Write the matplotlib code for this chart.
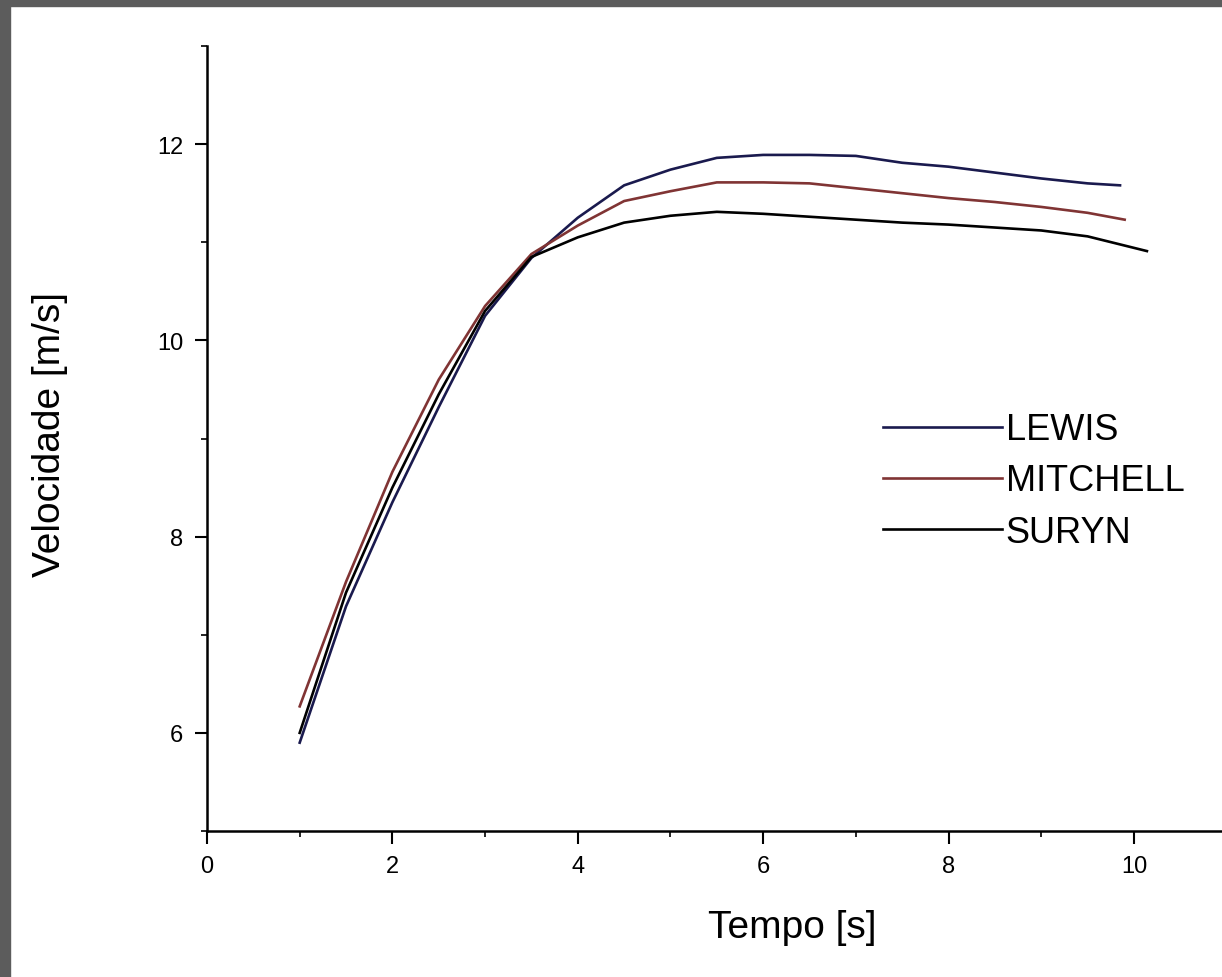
import matplotlib.pyplot as plt
from matplotlib.patches import Rectangle
from matplotlib.ticker import MultipleLocator

plt.rcParams['font.family'] = ['Liberation Sans', 'DejaVu Sans']

# tempo (s) e velocidade (m/s)
t_lewis = [1.0, 1.5, 2.0, 2.5, 3.0, 3.5, 4.0, 4.5, 5.0, 5.5, 6.0, 6.5, 7.0, 7.5, 8.0, 8.5, 9.0, 9.5, 9.85]
v_lewis = [5.90, 7.29, 8.35, 9.32, 10.25, 10.84, 11.25, 11.58, 11.74, 11.86, 11.89, 11.89, 11.88, 11.81, 11.77, 11.71, 11.65, 11.60, 11.58]

t_mitchell = [1.0, 1.5, 2.0, 2.5, 3.0, 3.5, 4.0, 4.5, 5.0, 5.5, 6.0, 6.5, 7.0, 7.5, 8.0, 8.5, 9.0, 9.5, 9.9]
v_mitchell = [6.27, 7.54, 8.66, 9.60, 10.35, 10.88, 11.17, 11.42, 11.52, 11.61, 11.61, 11.60, 11.55, 11.50, 11.45, 11.41, 11.36, 11.30, 11.23]

t_suryn = [1.0, 1.5, 2.0, 2.5, 3.0, 3.5, 4.0, 4.5, 5.0, 5.5, 6.0, 6.5, 7.0, 7.5, 8.0, 8.5, 9.0, 9.5, 10.14]
v_suryn = [6.00, 7.43, 8.50, 9.45, 10.30, 10.85, 11.05, 11.20, 11.27, 11.31, 11.29, 11.26, 11.23, 11.20, 11.18, 11.15, 11.12, 11.06, 10.91]

fig = plt.figure(figsize=(12.22, 9.78), dpi=100)
ax = fig.add_axes([207 / 1222, 146 / 978, 1015 / 1222, 785 / 978])

ax.plot(t_lewis, v_lewis, color='#1a1a4e', lw=1.9, label='LEWIS')
ax.plot(t_mitchell, v_mitchell, color='#803434', lw=1.9, label='MITCHELL')
ax.plot(t_suryn, v_suryn, color='black', lw=1.9, label='SURYN')

ax.set_xlim(0, 10.95)
ax.set_ylim(5, 13)
ax.xaxis.set_major_locator(MultipleLocator(2))
ax.xaxis.set_minor_locator(MultipleLocator(1))
ax.yaxis.set_minor_locator(MultipleLocator(1))
ax.set_yticks([6, 8, 10, 12])
ax.tick_params(which='major', direction='out', length=9, width=1.5, labelsize=17, pad=8)
ax.tick_params(which='minor', direction='out', length=4, width=1.2)

for side in ['top', 'right']:
    ax.spines[side].set_visible(False)
for side in ['left', 'bottom']:
    ax.spines[side].set_linewidth(1.8)

ax.set_xlabel('Tempo [s]', fontsize=28)
ax.xaxis.set_label_coords(0.577, -0.100)
ax.set_ylabel('Velocidade [m/s]', fontsize=28)
ax.yaxis.set_label_coords(-0.137, 0.506)

ax.legend(loc='center left', bbox_to_anchor=(0.648, 0.446), frameon=False, fontsize=26,
          handlelength=3.3, handletextpad=0.1, labelspacing=0.45, borderpad=0)

# moldura cinza do print original
fig.patches.append(Rectangle((0, 0), 10 / 1222, 1, transform=fig.transFigure, color='#5c5c5c', zorder=-1))
fig.patches.append(Rectangle((0, 1 - 7 / 978), 1, 7 / 978, transform=fig.transFigure, color='#5c5c5c', zorder=-1))

fig.savefig('out.png', dpi=100)
